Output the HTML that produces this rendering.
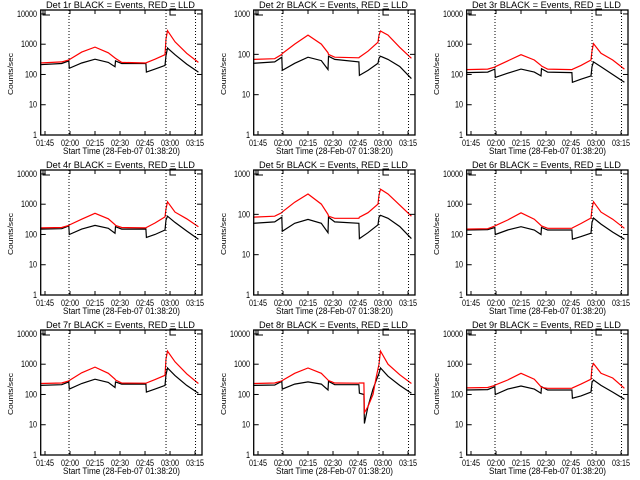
<!DOCTYPE html>
<html><head><meta charset="utf-8"><style>
body{margin:0;background:#fff;width:640px;height:480px;overflow:hidden}
svg{display:block}
text{font-family:"Liberation Sans",sans-serif;fill:#000}
</style></head><body>
<svg id="c" width="640" height="480" viewBox="0 0 640 480">
<rect width="640" height="480" fill="#fff"/>
</svg>
<script>
// minutes relative to 01:45
const times = [-3,10,14.3,14.6,22,30,38,42,42.3,46,60.5,60.8,66,72,72.6,73.5,78,85,92];
const times8 = [-3,10,14.3,14.6,22,30,38,42,42.3,46,60.5,60.8,63.5,63.8,66,69,71,72.6,73.5,78,85,92];
const tickLabels = ["01:45","02:00","02:15","02:30","02:45","03:00","03:15"];
const tickMinutes = [0,15,30,45,60,75,90];
const markerMinutes = [14.4,72.6,90.3];
const detNames = ["1r","2r","3r","4r","5r","6r","7r","8r","9r"];
const yMaxLog = [4.13,3.1,4.13,4.13,3.1,4.13,4.13,4.13,4.13];
const black1 = [210,230,280,160,240,320,250,180,280,230,230,120,150,200,420,750,450,220,120];
const red1 = [240,260,300,310,550,800,520,350,340,250,240,245,320,450,1500,2800,1200,500,250];
const black2 = [60,65,85,40,60,85,70,42,90,75,65,30,40,60,80,90,75,50,25];
const red2 = [75,78,100,105,180,300,180,110,100,85,82,85,120,200,300,380,300,150,80];
const black3 = [115,120,150,80,110,150,120,90,155,120,115,55,70,90,180,260,180,100,55];
const red3 = [145,150,175,180,280,450,300,200,190,150,145,148,200,300,600,1050,500,300,150];
const black4 = [150,155,190,100,150,200,160,110,180,150,150,80,100,140,300,400,250,130,70];
const red4 = [165,170,200,205,320,500,330,210,200,170,165,170,240,380,700,1200,550,330,180];
const black5 = [60,65,85,38,60,75,60,35,85,65,60,25,35,55,85,95,80,50,25];
const red5 = [85,90,110,115,200,320,180,100,90,80,80,85,110,180,300,420,320,170,90];
const black6 = [140,145,170,100,140,180,140,100,170,140,140,70,85,110,250,350,220,120,70];
const red6 = [150,155,190,195,300,520,320,200,190,160,160,165,230,350,700,1200,550,320,160];
const black7 = [200,210,260,150,230,320,250,170,260,220,220,120,150,200,450,750,420,200,110];
const red7 = [230,240,280,290,520,800,500,320,300,240,235,240,310,430,1500,2700,1200,480,230];
const black8 = [200,205,270,150,220,260,220,140,270,210,210,110,100,11,40,150,300,500,750,400,200,110];
const red8 = [230,240,280,290,500,750,500,300,290,240,235,240,240,25,40,100,400,1000,2700,1000,450,230];
const black9 = [140,145,180,100,150,190,150,110,180,140,140,75,90,120,250,300,200,120,70];
const red9 = [165,170,200,205,300,500,320,180,170,160,160,165,220,320,800,1050,500,350,160];

const blacks=[black1,black2,black3,black4,black5,black6,black7,black8,black9];
const reds=[red1,red2,red3,red4,red5,red6,red7,red8,red9];
const NS="http://www.w3.org/2000/svg";
const svg=document.getElementById('c');
function mk(tag,attrs,parent){const e=document.createElementNS(NS,tag);for(const k in attrs)e.setAttribute(k,attrs[k]);parent.appendChild(e);return e;}
const L=40.7,R=202,T=10,B=135;
for(let p=0;p<9;p++){
  const ox=(p%3)*213, oy=Math.floor(p/3)*160;
  const g=mk('g',{transform:`translate(${ox},${oy})`},svg);
  
  
  const ym=yMaxLog[p];
  const xs=m=>45+m*1.667;
  const ys=v=>B-Math.log10(v)/ym*(B-T);
  const tt=(p===7)?times8:times;
  [[blacks[p],'#000','black-events-line'],[reds[p],'#f00','red-lld-line']].forEach(([arr,col,nm])=>{
    const pts=arr.map((v,i)=>xs(tt[i]).toFixed(1)+','+ys(v).toFixed(1)).join(' ');
    const pl=mk('polyline',{points:pts,fill:'none',stroke:col,'stroke-width':1.2},g);
    
    
  });
  markerMinutes.forEach(m=>{
    const l=mk('line',{x1:xs(m),x2:xs(m),y1:T,y2:B,stroke:'#000','stroke-width':1,'stroke-dasharray':'1,2'},g);
    
    
  });
  mk('polyline',{points:`43,${T} 43,15 50,15`,fill:'none',stroke:'#000','stroke-width':1},g);
  mk('polyline',{points:`176,9 170,9 170,15 176,15`,fill:'none',stroke:'#000','stroke-width':1},g);
  const box=mk('rect',{x:L,y:T,width:R-L,height:B-T,fill:'none',stroke:'#000','stroke-width':1.3},g);
  
  
  tickMinutes.forEach((m,i)=>{
    const x=xs(m);
    mk('line',{x1:x,x2:x,y1:B,y2:B-4,stroke:'#000'},g);
    mk('line',{x1:x,x2:x,y1:T,y2:T+4,stroke:'#000'},g);
    const t=mk('text',{x:x-9,y:146,'font-size':9,textLength:18,lengthAdjust:'spacingAndGlyphs'},g);
    t.textContent=tickLabels[i];
    
    
  });
  for(let d=0;d<=Math.floor(ym);d++){
    const y=ys(Math.pow(10,d));
    mk('line',{x1:L,x2:L+5,y1:y,y2:y,stroke:'#000'},g);
    mk('line',{x1:R,x2:R-5,y1:y,y2:y,stroke:'#000'},g);
    const s=String(Math.pow(10,d));
    const w=s.length*4;
    const t=mk('text',{x:37-w,y:y+3,'font-size':9,textLength:w,lengthAdjust:'spacingAndGlyphs'},g);
    t.textContent=s;
    
    
  }
  const title=mk('text',{x:46,y:8,'font-size':9,textLength:149,lengthAdjust:'spacingAndGlyphs'},g);
  title.textContent='Det '+detNames[p]+' BLACK = Events, RED = LLD';
  
  
  const xt=mk('text',{x:63,y:154,'font-size':9,textLength:117,lengthAdjust:'spacingAndGlyphs'},g);
  xt.textContent='Start Time (28-Feb-07 01:38:20)';
  
  
  const yt=mk('text',{x:-21,y:0,'font-size':7,textLength:42,lengthAdjust:'spacingAndGlyphs',transform:'translate(13,74) rotate(-90)'},g);
  yt.textContent='Counts/sec';
  
  
}
</script>
</body></html>
